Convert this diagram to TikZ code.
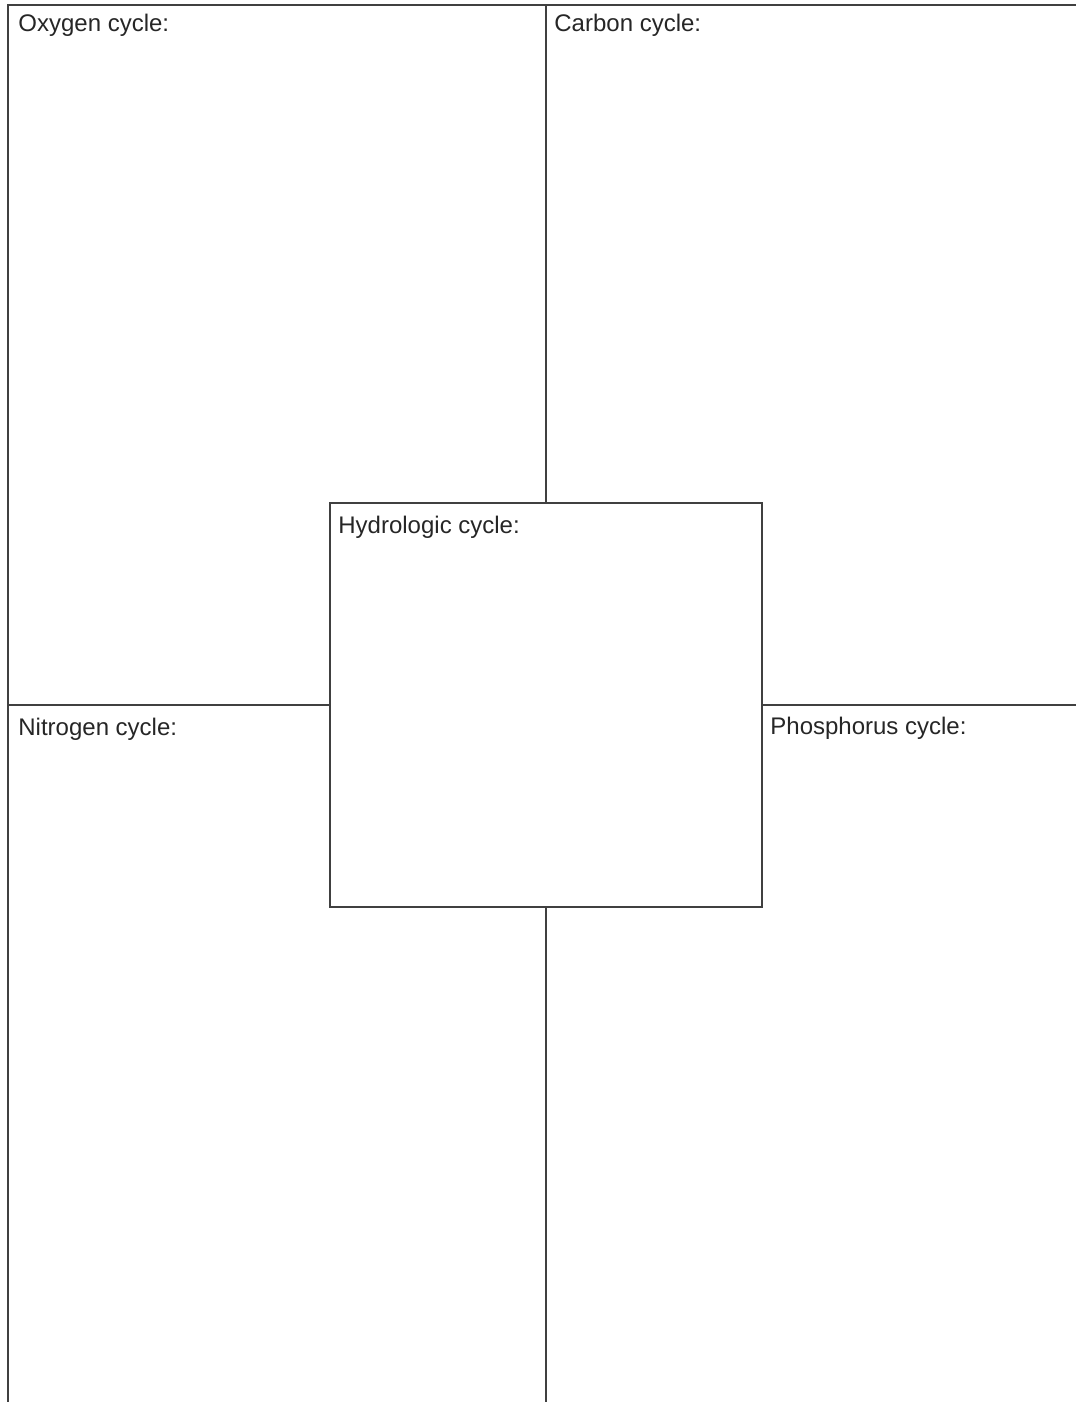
\documentclass[tikz,border=0pt]{standalone}
\usepackage{fontspec}
\setmainfont{Liberation Sans}
\usetikzlibrary{positioning}

\begin{document}
\begin{tikzpicture}[x=0.5pt,y=-0.5pt,
  frame/.style={draw=black!75,line width=1pt},
  cyclelabel/.style={anchor=base west,inner sep=0pt,font=\fontsize{12}{14}\selectfont,text=black!85}]
\useasboundingbox (0,0) rectangle (1076,1402);
\node[frame,minimum width=216pt,minimum height=202pt,inner sep=0pt,outer sep=0pt] (hydro) at (546,705) {};
\coordinate (topleft) at (8,5);
\coordinate (topright) at (1076,5);
\coordinate (bottomleft) at (8,1402);
\coordinate (topmid) at (546,5);
\coordinate (bottommid) at (546,1402);
\coordinate (leftmid) at (8,705);
\coordinate (rightmid) at (1076,705);
\draw[frame] (bottomleft)--(topleft)--(topright);
\draw[frame] (topmid)--(hydro.north);
\draw[frame] (hydro.south)--(bottommid);
\draw[frame] (leftmid)--(hydro.west);
\draw[frame] (hydro.east)--(rightmid);
\node[cyclelabel] (oxy) at (18,32) {Oxygen cycle:};
\node[cyclelabel] (carb) at (554,32) {Carbon cycle:};
\node[cyclelabel] (hydrolabel) at (338,533) {Hydrologic cycle:};
\node[cyclelabel] (nitro) at (18,735) {Nitrogen cycle:};
\node[cyclelabel] (phos) at (770,734) {Phosphorus cycle:};
\end{tikzpicture}
\end{document}
